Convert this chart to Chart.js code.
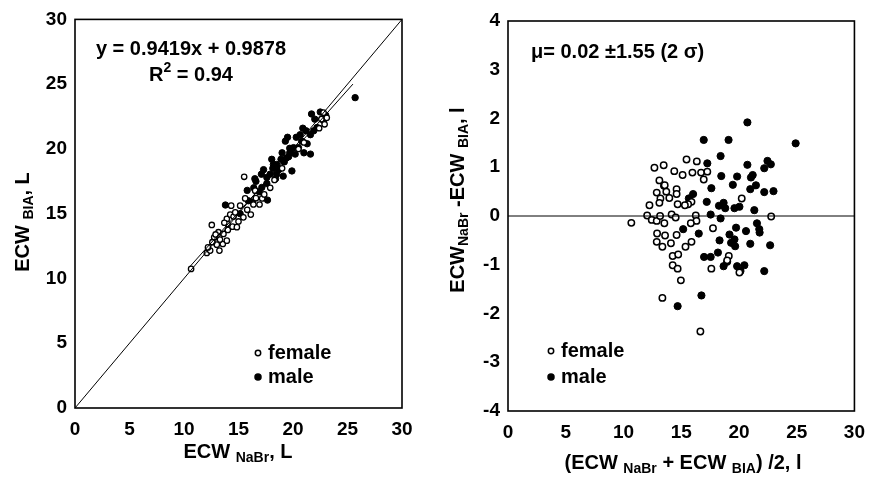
<!DOCTYPE html>
<html><head><meta charset="utf-8">
<script src="https://cdn.jsdelivr.net/npm/chart.js@4.4.0/dist/chart.umd.min.js"></script>
<style>
html,body{margin:0;padding:0;background:#fff;}
#wrap{position:relative;width:875px;height:479px;overflow:hidden;}
#c1{position:absolute;left:0;top:0;}
#c2{position:absolute;left:440px;top:0;}
</style></head><body>
<div id="wrap">
<canvas id="c1" width="440" height="479"></canvas>
<canvas id="c2" width="435" height="479"></canvas>
</div>
<script>
// ---------- DATA ----------
// Left panel: ECW NaBr (x) vs ECW BIA (y)
const leftFemaleNaBr = [10.65,12.09,12.4,13.25,12.55,13.01,13.56,13.93,12.77,13.16,13.62,14.02,14.45,14.85,13.93,14.24,14.55,14.33,15.15,15.45,16.13,15.61,15.52,16.37,16.93,17.17,17.36,17.91,16.53,12.9,13.3,12.6,14.0,14.7,15.0,15.8,16.6,18.3,19.0,20.5,21.0,22.4,22.6,22.9,23.1,22.8,13.7,12.2];
const leftFemaleBIA  = [10.74,11.97,12.15,12.15,14.13,12.61,12.66,12.92,13.18,13.57,13.44,13.75,14.0,13.96,14.6,14.93,14.78,15.62,15.62,14.72,14.93,16.18,17.85,15.71,15.71,16.18,16.49,17.0,16.78,13.4,13.0,12.8,14.2,15.1,14.4,15.3,16.2,17.6,18.5,20.0,20.5,21.6,22.3,21.9,22.4,22.8,14.3,12.4];
const leftMaleNaBr = [13.8,16.6,16.5,17.1,17.6,17.66,17.14,17.9,18.15,18.5,18.9,19.4,19.7,20.05,19.3,19.5,19.9,19.1,18.5,20.66,20.8,21.3,21.6,21.6,21.7,22.5,22.2,21.9,25.7,18.2,19.0,19.7,20.3,20.5,21.0,18.05,17.3,15.8,16.4,15.9,15.15,16.3,16.9,18.7,19.2,20.2,21.2,22.0,22.8,23.0,20.9,19.6,17.6,18.4];
const leftMaleBIA  = [15.67,17.5,17.7,18.05,17.33,16.05,17.03,18.05,18.5,18.8,19.2,19.3,19.7,20.1,20.6,20.9,18.3,17.9,18.05,21.1,20.6,20.4,21.1,19.6,22.7,22.85,21.65,21.4,23.96,18.8,19.7,20.05,20.9,20.1,19.7,19.2,18.4,16.8,17.0,16.0,15.0,15.9,16.7,18.4,19.0,19.6,21.4,22.3,22.2,22.6,21.6,19.4,17.8,17.7];
const regSlope = 0.9419, regIntercept = 0.9878, regFrom = 10.5, regTo = 25.5;

// Right panel: mean (x) vs difference (y)
const rightFemaleMean = [10.68,12.05,12.25,12.68,13.48,12.88,13.11,13.2,13.11,13.57,13.71,13.97,14.4,14.6,14.6,14.69,15.12,15.46,15.97,16.35,16.72,17.26,16.95,15.89,15.6,20.24,22.79,12.45,12.88,13.17,13.54,14.17,14.52,16.26,16.32,15.83,12.91,13.6,12.88,13.37,14.11,14.6,15.37,15.89,14.26,14.74,14.26,14.69,14.97,13.37,16.66,17.75,17.61,19.12,18.98,20.04,15.32];
const rightFemaleDiff = [-0.14,0.01,0.22,0.99,1.04,0.48,0.73,0.36,0.27,0.63,0.5,0.37,0.92,0.55,0.45,0.24,0.84,1.16,0.89,1.12,0.89,0.91,0.75,0.29,0.24,0.36,-0.01,-0.08,-0.1,0.0,-0.15,0.03,-0.03,0.01,-0.1,-0.15,-0.36,-0.4,-0.53,-0.63,-0.56,-0.39,-0.63,-0.53,-0.82,-0.79,-1.01,-1.08,-1.32,-1.68,-2.37,-0.25,-1.08,-0.82,-0.91,-1.16,0.22];
const rightMaleMean = [16.95,19.1,20.73,24.91,18.41,17.26,18.47,20.73,19.84,21.04,21.19,22.47,22.76,22.19,17.61,19.47,20.98,21.47,22.19,22.99,16.03,15.66,17.21,18.27,18.67,18.81,19.61,20.04,21.33,13.51,17.55,18.41,15.17,16.52,21.56,21.76,20.61,19.75,19.18,19.32,19.61,19.67,20.98,18.32,21.79,22.7,18.18,17.55,16.98,18.67,19.84,20.47,22.19,16.75,14.69,20.13,18.98];
const rightMaleDiff = [1.56,1.56,1.92,1.49,1.23,1.08,0.82,1.05,0.81,0.79,0.84,1.13,1.06,0.98,0.57,0.64,0.55,0.63,0.49,0.51,0.45,0.36,0.29,0.21,0.27,0.16,0.16,0.19,0.12,0.62,0.03,-0.05,-0.27,-0.36,-0.15,-0.27,-0.31,-0.24,-0.38,-0.55,-0.48,-0.62,-0.57,-0.5,-0.34,-0.6,-0.75,-0.84,-0.84,-1.03,-1.03,-1.01,-1.13,-1.63,-1.85,-1.13,-0.94];
const meanLine = 0;

const leftTicks = {min:0, max:30, step:5};
const rightXTicks = {min:0, max:30, step:5};
const rightYTicks = {min:-4, max:4, step:1};

// ---------- HELPERS ----------
const FAM = '"Liberation Sans", Arial, Helvetica, sans-serif';
const pts = (xs, ys) => xs.map((x,i)=>({x:x, y:ys[i]}));
function fontFor(p){ return 'bold ' + (p.size || (p.sub||p.sup ? 14 : 20)) + 'px ' + FAM; }
function drawRich(ctx, parts, cx, cy, rot, align){
  ctx.save(); ctx.translate(cx, cy); if (rot) ctx.rotate(rot);
  let w = 0;
  parts.forEach(p=>{ ctx.font = fontFor(p); p.w = ctx.measureText(p.t).width; w += p.w; });
  let x = align === 'left' ? 0 : -w/2;
  ctx.textBaseline = 'middle'; ctx.textAlign = 'left'; ctx.fillStyle = '#000';
  parts.forEach(p=>{ ctx.font = fontFor(p); const dy = p.sub ? 6 : (p.sup ? -7 : 0); ctx.fillText(p.t, x, dy); x += p.w; });
  ctx.restore();
}
function drawMarker(ctx, x, y, r, filled){
  ctx.save(); ctx.beginPath(); ctx.arc(x, y, r, 0, Math.PI*2);
  ctx.lineWidth = 1.5; ctx.strokeStyle = '#000'; ctx.fillStyle = filled ? '#000' : '#fff';
  ctx.fill(); ctx.stroke(); ctx.restore();
}

function makeOptions(cfg){
  return {
    responsive:false, animation:false, devicePixelRatio:1,
    layout:{padding:cfg.padding},
    plugins:{legend:{display:false}, tooltip:{enabled:false}},
    scales:{
      x:{type:'linear', min:cfg.x.min, max:cfg.x.max,
         grid:{display:false, drawTicks:false}, border:{display:false},
         ticks:{stepSize:cfg.x.step, padding:10, color:'#000', font:{family:FAM, size:19, weight:'bold'}},
         afterFit:s=>{ s.height = cfg.xh; }},
      y:{type:'linear', min:cfg.y.min, max:cfg.y.max,
         grid:{display:false, drawTicks:false}, border:{display:false},
         ticks:{stepSize:cfg.y.step, padding:8, color:'#000', font:{family:FAM, size:19, weight:'bold'}},
         afterFit:s=>{ s.width = cfg.yw; }}
    }
  };
}

const framePlugin = {
  id:'frame',
  afterDraw(chart, args, opts){
    const ctx = chart.ctx, a = chart.chartArea;
    ctx.save(); ctx.strokeStyle = '#000'; ctx.lineWidth = 1.6;
    ctx.strokeRect(a.left, a.top, a.right - a.left, a.bottom - a.top); ctx.restore();
    (opts.texts || []).forEach(t => drawRich(ctx, t.parts, t.x, t.y, t.rot || 0, t.align));
    (opts.legend || []).forEach(l => {
      drawMarker(ctx, l.x, l.y, l.r, l.filled);
      drawRich(ctx, [{t:l.label}], l.x + 10, l.y, 0, 'left');
    });
  }
};

// ---------- LEFT CHART ----------
new Chart(document.getElementById('c1'), {
  type:'scatter',
  data:{datasets:[
    {type:'line', data:[{x:leftTicks.min,y:leftTicks.min},{x:leftTicks.max,y:leftTicks.max}], borderColor:'#000', borderWidth:1, pointRadius:0, fill:false},
    {type:'line', data:[{x:regFrom,y:regSlope*regFrom+regIntercept},{x:regTo,y:regSlope*regTo+regIntercept}], borderColor:'#000', borderWidth:1, pointRadius:0, fill:false},
    {label:'female', data:pts(leftFemaleNaBr, leftFemaleBIA), pointRadius:2.7, pointBackgroundColor:'#fff', pointBorderColor:'#000', pointBorderWidth:1.3},
    {label:'male', data:pts(leftMaleNaBr, leftMaleBIA), pointRadius:3.2, pointBackgroundColor:'#000', pointBorderColor:'#000', pointBorderWidth:1}
  ]},
  options:makeOptions({padding:{left:0, right:38, top:16, bottom:0}, x:leftTicks, y:leftTicks, xh:71, yw:75}),
  plugins:[framePlugin]
});
Chart.getChart('c1').options.plugins.frame = {
  texts:[
    {parts:[{t:'ECW '},{t:'BIA', sub:true},{t:', L'}], x:23, y:222, rot:-Math.PI/2},
    {parts:[{t:'ECW '},{t:'NaBr', sub:true},{t:', L'}], x:238, y:452},
    {parts:[{t:'y = 0.9419x + 0.9878'}], x:191, y:49},
    {parts:[{t:'R'},{t:'2', sup:true},{t:' = 0.94'}], x:191, y:75}
  ],
  legend:[
    {x:258, y:353, r:2.7, filled:false, label:'female'},
    {x:258, y:377, r:3, filled:true, label:'male'}
  ]
};
Chart.getChart('c1').update();

// ---------- RIGHT CHART ----------
new Chart(document.getElementById('c2'), {
  type:'scatter',
  data:{datasets:[
    {type:'line', data:[{x:rightXTicks.min,y:meanLine},{x:rightXTicks.max,y:meanLine}], borderColor:'#000', borderWidth:1, pointRadius:0, fill:false},
    {label:'female', data:pts(rightFemaleMean, rightFemaleDiff), pointRadius:3.2, pointBackgroundColor:'#fff', pointBorderColor:'#000', pointBorderWidth:1.5},
    {label:'male', data:pts(rightMaleMean, rightMaleDiff), pointRadius:3.6, pointBackgroundColor:'#000', pointBorderColor:'#000', pointBorderWidth:1}
  ]},
  options:makeOptions({padding:{left:0, right:17, top:21, bottom:0}, x:rightXTicks, y:rightYTicks, xh:68, yw:68}),
  plugins:[framePlugin]
});
Chart.getChart('c2').options.plugins.frame = {
  texts:[
    {parts:[{t:'ECW'},{t:'NaBr', sub:true},{t:' -ECW '},{t:'BIA', sub:true},{t:', l'}], x:18, y:200, rot:-Math.PI/2},
    {parts:[{t:'(ECW '},{t:'NaBr', sub:true},{t:' + ECW '},{t:'BIA', sub:true},{t:') /2, l'}], x:243, y:463},
    {parts:[{t:'\u03bc= 0.02 \u00b11.55 (2 \u03c3)'}], x:91, y:52, align:'left'}
  ],
  legend:[
    {x:111, y:351, r:2.7, filled:false, label:'female'},
    {x:111, y:377, r:3, filled:true, label:'male'}
  ]
};
Chart.getChart('c2').update();
</script>
</body></html>
